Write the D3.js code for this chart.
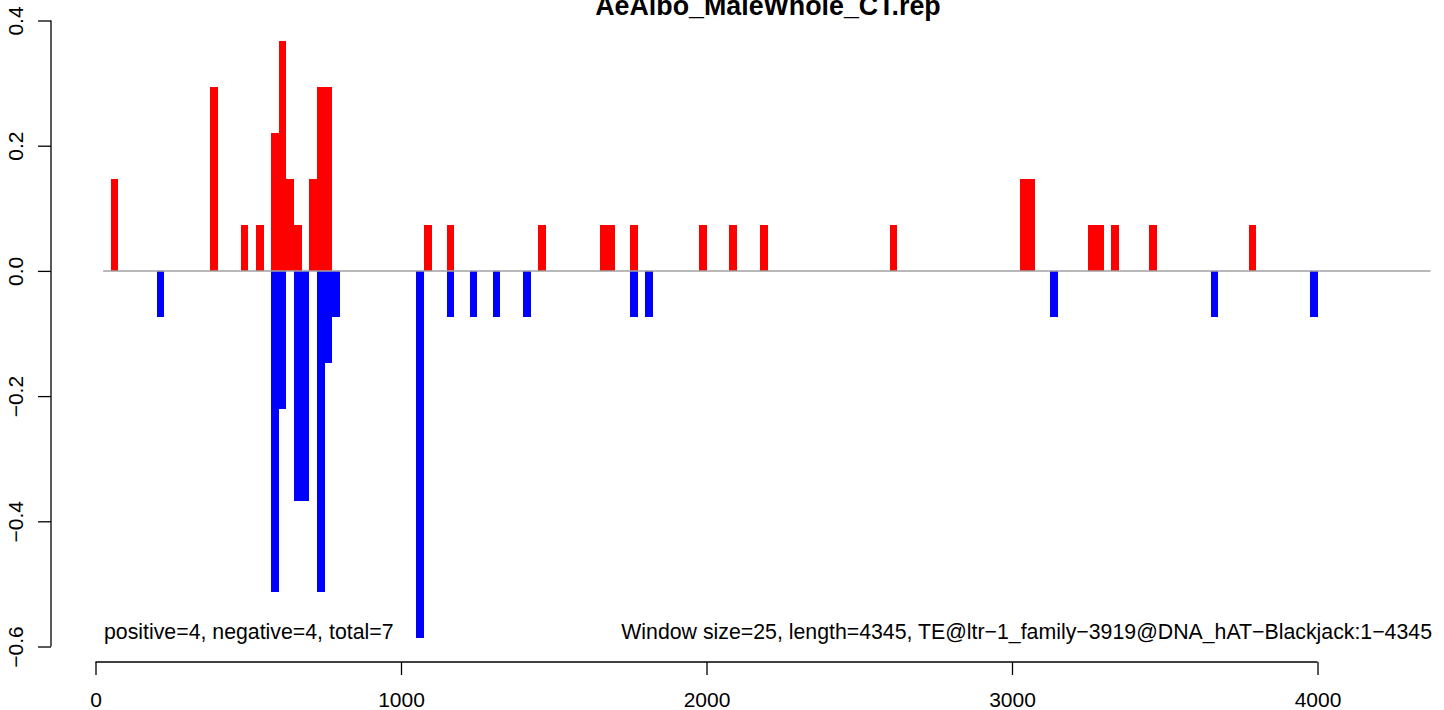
<!DOCTYPE html>
<html>
<head>
<meta charset="utf-8">
<script src="https://cdn.jsdelivr.net/npm/d3@7"></script>
<style>
  html, body { margin: 0; padding: 0; background: #fff; }
  svg { display: block; }
  text { font-family: "Liberation Sans", Arial, Helvetica, sans-serif; }
</style>
</head>
<body>
<div id="chart"></div>
<script>
// ---- data ----
const titleText = "AeAlbo_MaleWhole_CT.rep";
const windowSize = 25;
const seqLength = 4345;
const posBins = [50, 375, 475, 525, 575, 600, 625, 650, 700, 725, 750, 1075, 1150, 1450, 1650, 1675, 1750, 1975, 2075, 2175, 2600, 3025, 3050, 3250, 3275, 3325, 3450, 3775];
const posVals = [0.147, 0.293, 0.073, 0.073, 0.22, 0.367, 0.147, 0.073, 0.147, 0.293, 0.293, 0.073, 0.073, 0.073, 0.073, 0.073, 0.073, 0.073, 0.073, 0.073, 0.073, 0.147, 0.147, 0.073, 0.073, 0.073, 0.073, 0.073];
const negBins = [200, 575, 600, 650, 675, 725, 750, 775, 1050, 1150, 1225, 1300, 1400, 1750, 1800, 3125, 3650, 3975];
const negVals = [-0.073, -0.513, -0.22, -0.367, -0.367, -0.513, -0.147, -0.073, -0.587, -0.073, -0.073, -0.073, -0.073, -0.073, -0.073, -0.073, -0.073, -0.073];
const xTicks = [0, 1000, 2000, 3000, 4000];
const yTicks = [-0.6, -0.4, -0.2, 0.0, 0.2, 0.4];
const leftNote = "positive=4, negative=4, total=7";
const rightNote = "Window size=25, length=4345, TE@ltr\u22121_family\u22123919@DNA_hAT\u2212Blackjack:1\u22124345";

// ---- layout ----
const W = 1444, H = 710;
const svg = d3.select("#chart").append("svg").attr("width", W).attr("height", H);

const x = d3.scaleLinear().domain([0, 4000]).range([95.5, 1317.5]);
const y = d3.scaleLinear().domain([-0.6, 0.4]).range([646.5, 20.5]);

// bars
const posData = posBins.map((b, i) => ({ b, v: posVals[i] }));
const negData = negBins.map((b, i) => ({ b, v: negVals[i] }));

svg.append("g").selectAll("rect").data(posData).join("rect")
  .attr("x", d => x(d.b))
  .attr("width", d => x(d.b + windowSize) - x(d.b))
  .attr("y", d => y(d.v))
  .attr("height", d => y(0) - y(d.v))
  .attr("fill", "#ff0000")
  .attr("shape-rendering", "crispEdges");

svg.append("g").selectAll("rect").data(negData).join("rect")
  .attr("x", d => x(d.b))
  .attr("width", d => x(d.b + windowSize) - x(d.b))
  .attr("y", y(0))
  .attr("height", d => y(d.v) - y(0))
  .attr("fill", "#0000ff")
  .attr("shape-rendering", "crispEdges");

// baseline
svg.append("line")
  .attr("x1", x(windowSize)).attr("x2", x(seqLength + windowSize))
  .attr("y1", y(0)).attr("y2", y(0))
  .attr("stroke", "#a0a0a0").attr("stroke-width", 1.5);

// x axis
const xAxisY = 662;
const gx = svg.append("g").attr("transform", `translate(0,${xAxisY})`)
  .call(d3.axisBottom(x).tickValues(xTicks).tickFormat(d3.format("d")).tickSize(13).tickPadding(17));
gx.select(".domain").remove();
gx.append("line").attr("x1", x(xTicks[0])).attr("x2", x(xTicks[xTicks.length - 1]))
  .attr("y1", 0).attr("y2", 0).attr("stroke", "#000").attr("stroke-width", 1.3);
gx.selectAll(".tick line").attr("stroke", "#000").attr("stroke-width", 1.3);
gx.selectAll(".tick text").attr("font-size", 21).attr("fill", "#000")
  .attr("font-family", "Liberation Sans, Arial, sans-serif");

// y axis
const yAxisX = 51;
const gy = svg.append("g").attr("transform", `translate(${yAxisX},0)`)
  .call(d3.axisLeft(y).tickValues(yTicks).tickFormat(d3.format(".1f")).tickSize(13));
gy.select(".domain").remove();
gy.append("line").attr("x1", 0).attr("x2", 0)
  .attr("y1", y(yTicks[0])).attr("y2", y(yTicks[yTicks.length - 1]))
  .attr("stroke", "#000").attr("stroke-width", 1.3);
gy.selectAll(".tick line").attr("stroke", "#000").attr("stroke-width", 1.3);
gy.selectAll(".tick text")
  .attr("font-size", 21).attr("fill", "#000")
  .attr("font-family", "Liberation Sans, Arial, sans-serif")
  .attr("transform", "rotate(-90)")
  .attr("text-anchor", "middle")
  .attr("x", 0).attr("y", -28).attr("dy", 0);

// title
svg.append("text")
  .attr("x", 768).attr("y", 15)
  .attr("text-anchor", "middle")
  .attr("font-size", 26.8).attr("font-weight", "bold")
  .text(titleText);

// annotations
svg.append("text").attr("x", 104).attr("y", 639)
  .attr("font-size", 21.3).text(leftNote);
svg.append("text").attr("x", 1432).attr("y", 639)
  .attr("text-anchor", "end")
  .attr("font-size", 21.3).text(rightNote);
</script>
</body>
</html>
